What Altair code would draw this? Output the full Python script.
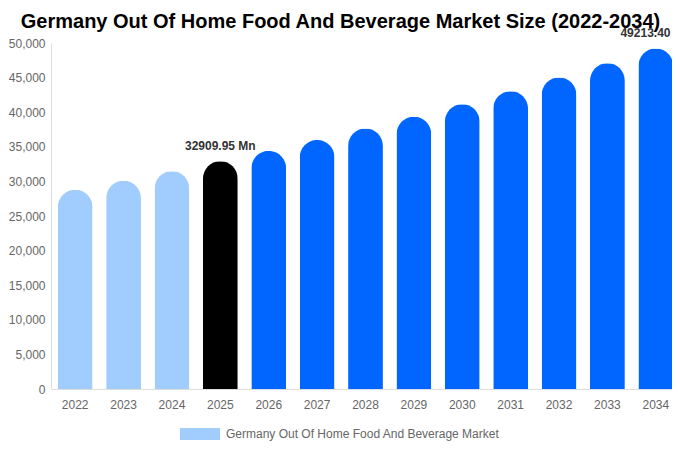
import pandas as pd
import altair as alt

# chart values
years = ["2022", "2023", "2024", "2025", "2026", "2027", "2028",
         "2029", "2030", "2031", "2032", "2033", "2034"]
market_size = [28780, 30100, 31470, 32909.95, 34410, 35990, 37630,
               39350, 41150, 43030, 45000, 47060, 49213.40]
bar_labels = ["", "", "", "32909.95 Mn", "", "", "", "", "", "", "", "", "49213.40 Mn"]
y_ticks = [0, 5000, 10000, 15000, 20000, 25000, 30000, 35000, 40000, 45000, 50000]

series_name = "Germany Out Of Home Food And Beverage Market"
phases = [series_name] * 3 + ["Base year"] + ["Forecast"] * 9

df = pd.DataFrame({
    "year": years,
    "size": market_size,
    "label": bar_labels,
    "phase": phases,
})

x_enc = alt.X(
    "year:N",
    title=None,
    sort=years,
    scale=alt.Scale(paddingInner=0.28, paddingOuter=0.14),
    axis=alt.Axis(labelAngle=0, labelColor="#666666", labelFontSize=12,
                  labelPadding=10, ticks=False, domainColor="#dddddd",
                  labelFont="Liberation Sans"),
)
y_enc = alt.Y(
    "size:Q",
    title=None,
    scale=alt.Scale(domain=[0, 50000], nice=False),
    axis=alt.Axis(values=y_ticks, format=",d", grid=False,
                  ticks=False, labelColor="#666666", labelFontSize=12,
                  labelPadding=6, labelOverlap=False, domainColor="#dddddd",
                  labelFont="Liberation Sans"),
)

bars = alt.Chart(df).mark_bar(
    cornerRadiusTopLeft=17.5, cornerRadiusTopRight=17.5
).encode(
    x=x_enc,
    y=y_enc,
    color=alt.Color(
        "phase:N",
        scale=alt.Scale(domain=[series_name, "Base year", "Forecast"],
                        range=["#a0cdfd", "#000000", "#0066ff"]),
        legend=alt.Legend(
            title=None,
            values=[series_name],
            orient="none",
            legendX=129,
            legendY=371,
            symbolType="M-1,-0.3H1V0.3H-1Z",
            symbolSize=1600,
            symbolStrokeWidth=0,
            labelColor="#666666",
            labelFontSize=12,
            labelFont="Liberation Sans",
            labelOffset=6,
            labelLimit=500,
            padding=0,
        ),
    ),
)

labels = alt.Chart(df).transform_filter(
    alt.datum.label != ""
).mark_text(
    dy=-8, fontWeight="bold", fontSize=12, color="#333333",
    font="Liberation Sans", baseline="bottom"
).encode(
    x=x_enc,
    y=y_enc,
    text="label:N",
)

chart = (bars + labels).properties(
    width=629,
    height=346,
    autosize="none",
    padding={"left": 43, "top": 35, "right": -8, "bottom": 53},
    title=alt.TitleParams(
        "Germany Out Of Home Food And Beverage Market Size (2022-2034)",
        fontSize=20, fontWeight="bold", color="#000000",
        font="Liberation Sans", anchor="middle", dx=-25, offset=-5,
    ),
).configure_view(stroke=None)

chart.save("out.html", embed_options={"renderer": "svg", "actions": False})
